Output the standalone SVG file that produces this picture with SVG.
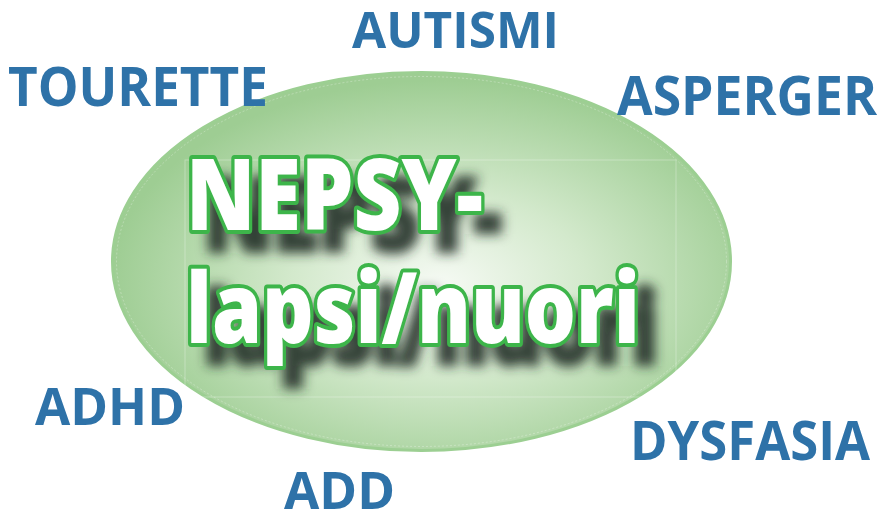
<svg xmlns="http://www.w3.org/2000/svg" width="885" height="511" viewBox="0 0 885 511">
<defs>
<radialGradient id="bg" cx="440" cy="285" r="330" gradientUnits="userSpaceOnUse" gradientTransform="translate(440 285) scale(1 0.62) translate(-440 -285)">
<stop offset="0" stop-color="#f6faf4"/>
<stop offset="0.45" stop-color="#d3e9cc"/>
<stop offset="1" stop-color="#9ecd93"/>
</radialGradient>
<filter id="shadow" x="-10%" y="-30%" width="120%" height="160%">
<feGaussianBlur stdDeviation="6"/>
</filter>
<style>
.lbl{font-family:"Open Sans","Noto Sans","Liberation Sans",sans-serif;font-weight:700;fill:#2e72a8;}
.big{font-family:"Open Sans","Noto Sans","Liberation Sans",sans-serif;font-weight:800;}
.main{fill:#ffffff;stroke:#3db54a;stroke-width:8;stroke-linejoin:round;paint-order:stroke;}
.shd{fill:#263028;stroke:#263028;stroke-width:6;opacity:0.9;}
</style>
</defs>
<rect width="885" height="511" fill="#ffffff"/>
<g id="nepsy">
<ellipse cx="421.5" cy="261.5" rx="309" ry="189" fill="url(#bg)" stroke="#9ccf92" stroke-width="3"/>
<ellipse cx="421.5" cy="261.5" rx="305" ry="185" fill="none" stroke="#ffffff" stroke-opacity="0.35" stroke-width="0.8" stroke-dasharray="2 2"/>
<rect x="185" y="160" width="491" height="237" fill="none" stroke="#ffffff" stroke-opacity="0.3" stroke-width="1"/>
<g filter="url(#shadow)">
<text class="big shd" x="204" y="250" font-size="100" textLength="297" lengthAdjust="spacingAndGlyphs">NEPSY-</text>
<text class="big shd" x="204" y="363" font-size="97" textLength="454" lengthAdjust="spacingAndGlyphs">lapsi/nuori</text>
</g>
<text class="big main" x="186" y="230" font-size="100" textLength="297" lengthAdjust="spacingAndGlyphs">NEPSY-</text>
<text class="big main" x="186" y="343" font-size="97" textLength="454" lengthAdjust="spacingAndGlyphs">lapsi/nuori</text>
</g>
<g id="autismi"><text class="lbl" x="352" y="48" font-size="50" textLength="207" lengthAdjust="spacingAndGlyphs">AUTISMI</text></g>
<g id="tourette"><text class="lbl" x="8" y="106" font-size="53" textLength="260" lengthAdjust="spacingAndGlyphs">TOURETTE</text></g>
<g id="asperger"><text class="lbl" x="617" y="115" font-size="54" textLength="260" lengthAdjust="spacingAndGlyphs">ASPERGER</text></g>
<g id="adhd"><text class="lbl" x="35" y="425" font-size="52" textLength="150" lengthAdjust="spacingAndGlyphs">ADHD</text></g>
<g id="dysfasia"><text class="lbl" x="630" y="460" font-size="53" textLength="240" lengthAdjust="spacingAndGlyphs">DYSFASIA</text></g>
<g id="add"><text class="lbl" x="284" y="509" font-size="52" textLength="111" lengthAdjust="spacingAndGlyphs">ADD</text></g>
</svg>
